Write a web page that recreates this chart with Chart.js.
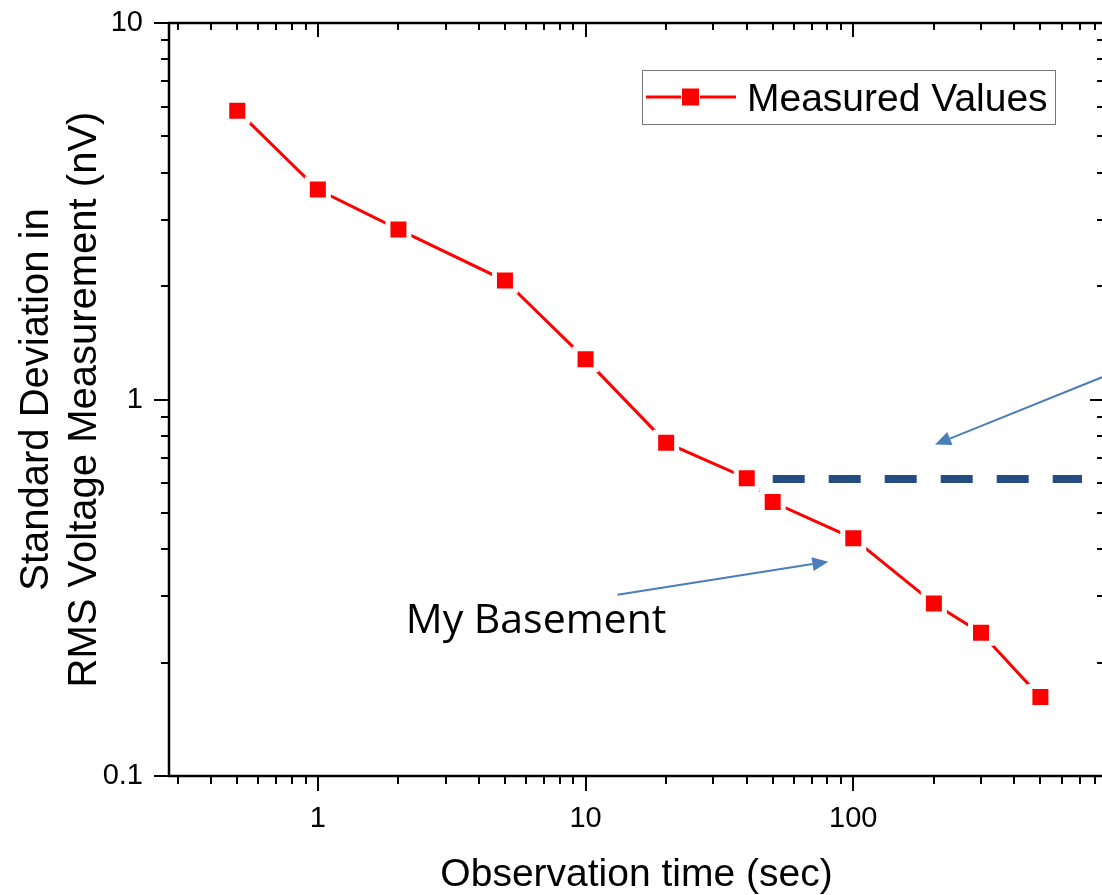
<!DOCTYPE html>
<html>
<head>
<meta charset="utf-8">
<script src="https://cdn.jsdelivr.net/npm/chart.js@4"></script>
<style>
html, body { margin: 0; padding: 0; background: #fff; overflow: hidden; }
</style>
</head>
<body>
<canvas id="chart" width="1106" height="895"></canvas>
<script>
const timeSec = [0.5, 1, 2, 5, 10, 20, 40, 50, 100, 200, 300, 500];
const stdDevNv = [5.85, 3.61, 2.83, 2.07, 1.28, 0.768, 0.618, 0.534, 0.428, 0.287, 0.240, 0.162];
const seriesLabel = "Measured Values";

// dashed reference level
const levelTime = [50, 715];
const levelValue = [0.615, 0.615];

// axes
const xRange = [0.278, 864];
const yRange = [0.1, 10];
const xTickValues = [1, 10, 100];
const yTickValues = [0.1, 1, 10];
const xTitle = "Observation time (sec)";
const yTitle = ["Standard Deviation in", "RMS Voltage Measurement (nV)"];

// annotations (data coordinates)
const arrowFrom = [[849, 1.146], [13.16, 0.303]];
const arrowTo = [[202, 0.759], [80.7, 0.371]];
const noteText = "My Basement";
const noteAt = [2.13, 0.240];

const FONT = "'Liberation Sans', Arial, sans-serif";
Chart.defaults.font.family = FONT;
Chart.defaults.color = "#000";

function logTicks(min, max) {
    const out = [];
    for (let d = Math.floor(Math.log10(min)); d <= Math.ceil(Math.log10(max)); d++) {
        for (let k = 1; k <= 9; k++) {
            const v = k * Math.pow(10, d);
            if (v >= min * 0.9999 && v <= max * 1.0001) out.push({ v: v, major: k === 1 });
        }
    }
    return out;
}

function seg(ctx, x1, y1, x2, y2) {
    ctx.beginPath();
    ctx.moveTo(x1, y1);
    ctx.lineTo(x2, y2);
    ctx.stroke();
}

const annotations = {
    id: "annotations",
    afterDatasetsDraw(chart) {
        const { ctx, scales: { x, y } } = chart;
        ctx.save();
        ctx.strokeStyle = "#4A7EBB";
        ctx.fillStyle = "#4A7EBB";
        ctx.lineWidth = 2;
        arrowFrom.forEach((f, i) => {
            const x1 = x.getPixelForValue(f[0]), y1 = y.getPixelForValue(f[1]);
            const x2 = x.getPixelForValue(arrowTo[i][0]), y2 = y.getPixelForValue(arrowTo[i][1]);
            const ang = Math.atan2(y2 - y1, x2 - x1);
            const headLen = 16, headW = 7;
            const bx = x2 - headLen * Math.cos(ang), by = y2 - headLen * Math.sin(ang);
            seg(ctx, x1, y1, bx, by);
            ctx.beginPath();
            ctx.moveTo(x2, y2);
            ctx.lineTo(bx + headW * Math.sin(ang), by - headW * Math.cos(ang));
            ctx.lineTo(bx - headW * Math.sin(ang), by + headW * Math.cos(ang));
            ctx.closePath();
            ctx.fill();
        });
        ctx.fillStyle = "#000";
        ctx.font = "41px 'Open Sans', sans-serif";
        ctx.textAlign = "left";
        ctx.textBaseline = "alphabetic";
        ctx.fillText(noteText, x.getPixelForValue(noteAt[0]), y.getPixelForValue(noteAt[1]));
        ctx.restore();
    }
};

const frame = {
    id: "frame",
    afterDraw(chart) {
        const { ctx, chartArea: a, scales: { x, y } } = chart;
        ctx.save();
        ctx.strokeStyle = "#000";
        ctx.lineWidth = 2;
        logTicks(x.min, x.max).forEach(t => {
            const px = Math.round(x.getPixelForValue(t.v));
            seg(ctx, px, a.bottom, px, a.bottom + (t.major ? 15 : 8));
            seg(ctx, px, a.top, px, a.top + (t.major ? 14 : 7));
        });
        logTicks(y.min, y.max).forEach(t => {
            const py = Math.round(y.getPixelForValue(t.v));
            seg(ctx, a.left, py, a.left - (t.major ? 15 : 8), py);
            seg(ctx, a.right, py, a.right - (t.major ? 14 : 7), py);
        });
        ctx.lineWidth = 2.5;
        ctx.strokeRect(a.left, a.top, a.right - a.left, a.bottom - a.top);

        // legend box
        const ds = chart.data.datasets[0];
        const lx = a.right - 462, ly = a.top + 47;
        ctx.lineWidth = 1;
        ctx.strokeStyle = "#777";
        ctx.strokeRect(lx + 0.5, ly + 0.5, 413, 54);
        const my = ly + 27;
        ctx.strokeStyle = ds.borderColor;
        ctx.lineWidth = 3;
        seg(ctx, lx + 4, my, lx + 39, my);
        seg(ctx, lx + 58, my, lx + 94, my);
        ctx.fillStyle = ds.borderColor;
        ctx.fillRect(lx + 40, my - 8.5, 17, 17);
        ctx.fillStyle = "#000";
        ctx.font = "39px " + FONT;
        ctx.textAlign = "left";
        ctx.textBaseline = "alphabetic";
        ctx.fillText(ds.label, lx + 105, ly + 41);
        ctx.restore();
    }
};

new Chart(document.getElementById("chart"), {
    type: "line",
    data: {
        datasets: [
            {
                label: seriesLabel,
                data: timeSec.map((t, i) => ({ x: t, y: stdDevNv[i] })),
                borderColor: "#FF0000",
                backgroundColor: "#FF0000",
                borderWidth: 3,
                pointStyle: "rect",
                pointRadius: 14.85,
                pointBackgroundColor: "#FF0000",
                pointBorderColor: "#FFFFFF",
                pointBorderWidth: 5,
                tension: 0
            },
            {
                label: "level",
                data: levelTime.map((t, i) => ({ x: t, y: levelValue[i] })),
                borderColor: "#254D7F",
                borderWidth: 8,
                borderDash: [32, 24],
                borderCapStyle: "butt",
                pointRadius: 0,
                order: 1
            }
        ]
    },
    options: {
        responsive: false,
        animation: false,
        layout: { autoPadding: false, padding: { top: 23, right: 2, left: 0, bottom: 0 } },
        plugins: {
            legend: { display: false },
            tooltip: { enabled: false }
        },
        scales: {
            x: {
                type: "logarithmic",
                min: xRange[0],
                max: xRange[1],
                grid: { display: false },
                border: { display: false },
                afterBuildTicks: s => { s.ticks = xTickValues.map(v => ({ value: v })); },
                afterFit: s => {
                    s.height = 119;
                    s.paddingLeft = 0;
                    s.paddingRight = 0;
                },
                ticks: {
                    autoSkip: false,
                    maxRotation: 0,
                    padding: 18,
                    font: { size: 29 },
                    callback: v => String(v)
                },
                title: {
                    display: true,
                    text: xTitle,
                    font: { size: 39, lineHeight: 1 },
                    padding: { top: 4, bottom: 0 }
                }
            },
            y: {
                type: "logarithmic",
                min: yRange[0],
                max: yRange[1],
                grid: { display: false },
                border: { display: false },
                afterBuildTicks: s => { s.ticks = yTickValues.map(v => ({ value: v })); },
                afterFit: s => {
                    s.width = 169;
                    s.paddingTop = 0;
                    s.paddingBottom = 0;
                },
                ticks: {
                    autoSkip: false,
                    padding: 18,
                    font: { size: 29 },
                    callback: v => String(v)
                },
                title: {
                    display: true,
                    text: yTitle,
                    font: { size: 40, lineHeight: 1.2 },
                    padding: { top: 13, bottom: 0 }
                }
            }
        }
    },
    plugins: [annotations, frame]
});
</script>
</body>
</html>
